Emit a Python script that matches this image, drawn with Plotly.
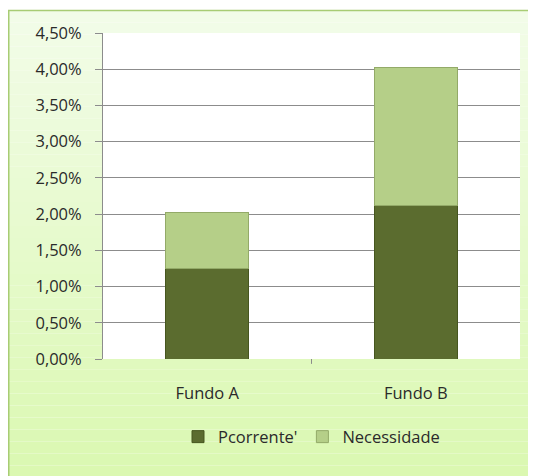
import plotly.graph_objects as go

categories = ["Fundo A", "Fundo B"]
pcorrente = [0.0125, 0.0212]
necessidade = [0.0077, 0.0190]
tick_vals = [0, 0.005, 0.01, 0.015, 0.02, 0.025, 0.03, 0.035, 0.04, 0.045]
tick_text = ["0,00%", "0,50%", "1,00%", "1,50%", "2,00%", "2,50%", "3,00%", "3,50%", "4,00%", "4,50%"]

FONT = "Open Sans"
FS = 16.5
TXT = "#2a2a2a"

fig = go.Figure()
fig.add_trace(go.Bar(
    x=categories, y=pcorrente, name="Pcorrente'",
    marker=dict(color="#5b6c2f", line=dict(color="#46561f", width=1)),
    width=0.4,
))
fig.add_trace(go.Bar(
    x=categories, y=necessidade, name="Necessidade",
    marker=dict(color="#b5cf88", line=dict(color="#93aa68", width=1)),
    width=0.4,
))

# background gradient of the chart area (light at top, greener at bottom)
shapes = []
x0, x1 = -0.226, 1.2
ytop, ybot = 1.069, -0.40
n = 40
c_top = (242, 252, 232)
c_bot = (218, 248, 176)
for i in range(n):
    t = i / (n - 1)
    c = tuple(round(c_top[k] + (c_bot[k] - c_top[k]) * t) for k in range(3))
    ya = ytop - (ytop - ybot) * i / n
    yb = ytop - (ytop - ybot) * (i + 1) / n
    shapes.append(dict(type="rect", xref="paper", yref="paper", x0=x0, x1=x1, y0=yb, y1=ya,
                       fillcolor="rgb(%d,%d,%d)" % c, line=dict(width=0), layer="below"))
# border
shapes.append(dict(type="rect", xref="paper", yref="paper", x0=x0, x1=x1, y0=ybot, y1=ytop,
                   fillcolor="rgba(0,0,0,0)", line=dict(color="#a8cc74", width=1.5), layer="below"))
# white plot area
shapes.append(dict(type="rect", xref="paper", yref="paper", x0=0, x1=1, y0=0, y1=1,
                   fillcolor="white", line=dict(width=0), layer="below"))

fig.update_layout(
    barmode="stack",
    width=528, height=468,
    margin=dict(l=95, r=16, t=25, b=117, autoexpand=False),
    paper_bgcolor="white",
    plot_bgcolor="white",
    font=dict(family=FONT, size=FS, color=TXT),
    shapes=shapes,
    showlegend=True,
    legend=dict(orientation="h", x=0.5, xanchor="center", y=-0.239, yanchor="middle",
                font=dict(family=FONT, size=FS, color=TXT),
                bgcolor="rgba(0,0,0,0)", itemwidth=30, traceorder="normal"),
)
fig.update_yaxes(
    range=[0, 0.045], tickvals=tick_vals, ticktext=tick_text,
    showgrid=True, gridcolor="#8c8c8c", gridwidth=1,
    showline=True, linecolor="#8c8c8c", linewidth=1,
    ticks="outside", ticklen=7, tickcolor="#8c8c8c",
    zeroline=False, tickfont=dict(size=FS, family=FONT, color=TXT),
    ticklabelstandoff=10,
)
fig.update_xaxes(
    showline=False, ticks="", showgrid=False,
    tickfont=dict(size=FS, family=FONT, color=TXT),
    ticklabelstandoff=22,
)
fig.add_shape(type="line", xref="x", yref="paper", x0=0.5, x1=0.5, y0=0, y1=-0.015,
              line=dict(color="#8c8c8c", width=1))

fig.write_html("out.html")
